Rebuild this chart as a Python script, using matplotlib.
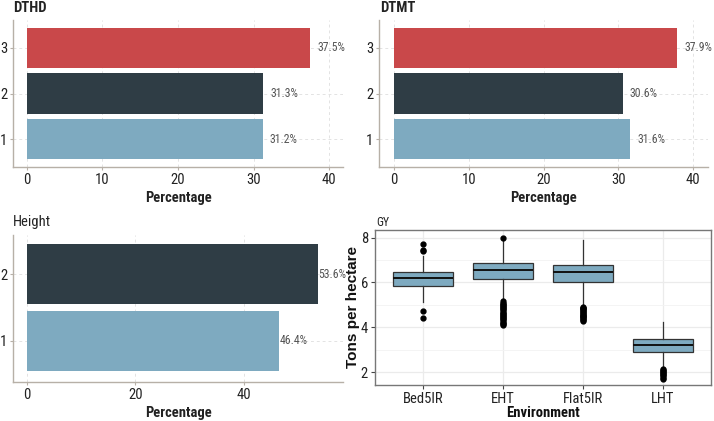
import matplotlib
matplotlib.use("Agg")
import matplotlib.pyplot as plt
from matplotlib.ticker import MultipleLocator

plt.rcParams['font.family'] = ['Roboto Condensed', 'Liberation Sans', 'DejaVu Sans']

# bar panels
classes3 = ["1", "2", "3"]
dthd = [31.2, 31.3, 37.5]
dtmt = [31.6, 30.6, 37.9]
classes2 = ["1", "2"]
height = [46.4, 53.6]
bar_colors = ["#7eaac0", "#2f3d45", "#c9484a"]

# GY boxplot (stats)
envs = ["Bed5IR", "EHT", "Flat5IR", "LHT"]
gy_q1 = [5.84, 6.16, 6.01, 2.91]
gy_med = [6.21, 6.56, 6.48, 3.21]
gy_q3 = [6.48, 6.88, 6.78, 3.48]
gy_whislo = [5.14, 5.17, 4.97, 2.19]
gy_whishi = [7.18, 7.90, 7.90, 4.22]
gy_fliers = [
    [7.70, 7.45, 7.40, 4.73, 4.43],
    [7.97, 5.15, 5.10, 5.05, 5.00, 4.95, 4.90, 4.85, 4.80, 4.75, 4.70, 4.65,
     4.60, 4.55, 4.50, 4.45, 4.40, 4.35, 4.30, 4.25, 4.20, 4.15, 4.10],
    [4.92, 4.88, 4.84, 4.80, 4.76, 4.72, 4.68, 4.64, 4.60, 4.56, 4.52, 4.48,
     4.44, 4.40, 4.36, 4.32, 4.28],
    [2.15, 2.10, 2.05, 2.00, 1.95, 1.90, 1.85, 1.80, 1.75, 1.70],
]

W, H = 714, 421
fig = plt.figure(figsize=(W / 100, H / 100), dpi=100)
fig.patch.set_facecolor("white")


def px_axes(l, t, r, b):
    return fig.add_axes([l / W, 1 - b / H, (r - l) / W, (b - t) / H])


SPINE = "#b7b0a7"
GRID = "#e3e3e3"


def bar_panel(ax, vals, cats, xlim, ylim, xstep, offset):
    ys = list(range(1, len(vals) + 1))
    ax.barh(ys, vals, height=0.9, color=bar_colors[:len(vals)], zorder=2)
    for y, v in zip(ys, vals):
        ax.annotate(f"{v}%", (v, y), xytext=(offset, 0), textcoords="offset points",
                    ha="left", va="center", fontsize=8.5, color="#555555")
    ax.set_xlim(*xlim)
    ax.set_ylim(*ylim)
    ax.set_yticks(ys)
    ax.set_yticklabels(cats)
    ax.xaxis.set_major_locator(MultipleLocator(xstep))
    ax.grid(True, color=GRID, linestyle=(0, (3, 3)), linewidth=0.7, zorder=0)
    ax.set_axisbelow(True)
    for s in ["top", "right"]:
        ax.spines[s].set_visible(False)
    for s in ["left", "bottom"]:
        ax.spines[s].set_color(SPINE)
        ax.spines[s].set_linewidth(1.0)
    ax.tick_params(colors=SPINE, labelcolor="#222222", labelsize=10.5, length=2.5, width=0.8, pad=1.5)
    ax.set_xlabel("Percentage", fontsize=10.5, fontweight="bold", color="#222222", labelpad=3)


ax1 = px_axes(13, 20, 343, 167)
bar_panel(ax1, dthd, classes3, (-1.85, 41.85), (0.385, 3.615), 10, 5)
ax2 = px_axes(379, 20, 708, 167)
bar_panel(ax2, dtmt, classes3, (-2.0, 42.0), (0.385, 3.615), 10, 5)
ax3 = px_axes(13, 235, 343, 382)
bar_panel(ax3, height, classes2, (-2.58, 58.25), (0.385, 2.585), 20, 0.5)

fig.text(13 / W, 1 - 8 / H, "DTHD", fontsize=10.5, fontweight="bold", va="center", color="#222222")
fig.text(380 / W, 1 - 8 / H, "DTMT", fontsize=10.5, fontweight="bold", va="center", color="#222222")
fig.text(13 / W, 1 - 222 / H, "Height", fontsize=10.5, va="center", color="#222222")
fig.text(376 / W, 1 - 222 / H, "GY", fontsize=8.5, va="center", color="#222222")

# GY boxplot
ax4 = px_axes(375, 230, 711, 385)
stats = []
for i in range(len(envs)):
    stats.append(dict(med=gy_med[i], q1=gy_q1[i], q3=gy_q3[i],
                      whislo=gy_whislo[i], whishi=gy_whishi[i], fliers=gy_fliers[i]))
ax4.bxp(stats, positions=range(1, len(envs) + 1), widths=0.75, patch_artist=True,
        boxprops=dict(facecolor="#7eaac0", edgecolor="#333333", linewidth=0.9),
        medianprops=dict(color="#111111", linewidth=1.4),
        whiskerprops=dict(color="#333333", linewidth=0.9),
        capprops=dict(linewidth=0),
        flierprops=dict(marker="o", markerfacecolor="black", markeredgecolor="black",
                        markersize=3.5, linestyle="none"),
        zorder=3)
ax4.set_xlim(0.4, 4.6)
ax4.set_ylim(1.42, 8.34)
ax4.set_xticks(range(1, len(envs) + 1))
ax4.set_xticklabels(envs)
ax4.yaxis.set_major_locator(MultipleLocator(2))
ax4.yaxis.set_minor_locator(MultipleLocator(1))
ax4.grid(True, which="major", color="#ebebeb", linewidth=0.9, zorder=0)
ax4.grid(True, which="minor", axis="y", color="#f3f3f3", linewidth=0.6, zorder=0)
ax4.set_axisbelow(True)
for s in ax4.spines.values():
    s.set_color("#777777")
    s.set_linewidth(1.0)
ax4.tick_params(which="major", colors="#444444", labelcolor="#222222", labelsize=10.5,
                length=3, width=0.8, pad=2)
ax4.tick_params(which="minor", length=0)
ax4.set_xlabel("Environment", fontsize=10.5, fontweight="bold", color="#111111", labelpad=0)
ax4.set_ylabel("Tons per hectare", fontsize=11, fontweight="bold", color="#111111",
               family=["Liberation Sans", "DejaVu Sans"])
ax4.yaxis.set_label_coords(-0.045, 0.5)

fig.savefig("out.png", dpi=100, facecolor="white")
